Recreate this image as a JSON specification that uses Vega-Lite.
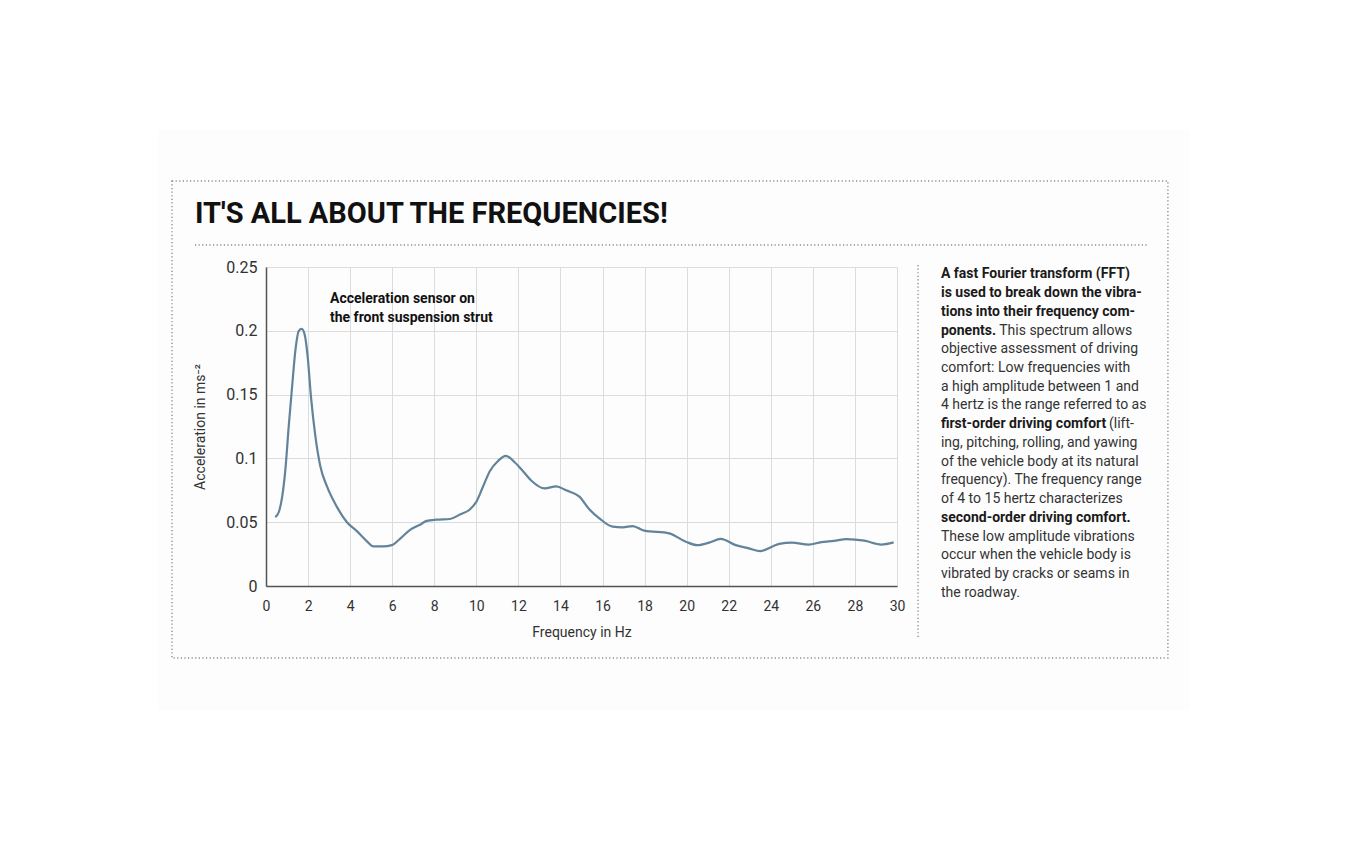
{
  "$schema": "https://vega.github.io/schema/vega-lite/v6.json",
  "width": 631,
  "height": 319,
  "autosize": {"type": "none"},
  "padding": {"left": 266, "top": 267, "right": 453, "bottom": 258},
  "background": "white",
  "config": {
    "view": {"stroke": null},
    "font": "Roboto",
    "text": {"align": "left", "baseline": "alphabetic", "font": "Roboto", "fontSize": 14, "lineBreak": "\n", "lineHeight": 18.73}
  },
  "datasets": {
    "spectrum": [
      {"hz": 0.44, "acc": 0.054}, {"hz": 0.61, "acc": 0.058}, {"hz": 0.77, "acc": 0.070},
      {"hz": 0.92, "acc": 0.091}, {"hz": 1.08, "acc": 0.125}, {"hz": 1.24, "acc": 0.156},
      {"hz": 1.40, "acc": 0.185}, {"hz": 1.56, "acc": 0.200}, {"hz": 1.70, "acc": 0.2015},
      {"hz": 1.84, "acc": 0.197}, {"hz": 1.98, "acc": 0.180}, {"hz": 2.14, "acc": 0.148},
      {"hz": 2.35, "acc": 0.117}, {"hz": 2.58, "acc": 0.094}, {"hz": 2.90, "acc": 0.078},
      {"hz": 3.37, "acc": 0.062}, {"hz": 3.85, "acc": 0.050}, {"hz": 4.32, "acc": 0.043},
      {"hz": 4.80, "acc": 0.035}, {"hz": 5.11, "acc": 0.031}, {"hz": 5.58, "acc": 0.031},
      {"hz": 5.98, "acc": 0.032}, {"hz": 6.37, "acc": 0.037}, {"hz": 6.85, "acc": 0.044},
      {"hz": 7.32, "acc": 0.048}, {"hz": 7.64, "acc": 0.051}, {"hz": 8.11, "acc": 0.052},
      {"hz": 8.74, "acc": 0.0525}, {"hz": 9.22, "acc": 0.056}, {"hz": 9.69, "acc": 0.060},
      {"hz": 10.0, "acc": 0.066}, {"hz": 10.32, "acc": 0.078}, {"hz": 10.64, "acc": 0.090},
      {"hz": 11.03, "acc": 0.098}, {"hz": 11.40, "acc": 0.102}, {"hz": 11.82, "acc": 0.097},
      {"hz": 12.22, "acc": 0.090}, {"hz": 12.62, "acc": 0.0825}, {"hz": 13.25, "acc": 0.0765},
      {"hz": 13.80, "acc": 0.078}, {"hz": 14.27, "acc": 0.075}, {"hz": 14.90, "acc": 0.070},
      {"hz": 15.38, "acc": 0.060}, {"hz": 15.85, "acc": 0.053}, {"hz": 16.48, "acc": 0.0465},
      {"hz": 16.96, "acc": 0.046}, {"hz": 17.43, "acc": 0.047}, {"hz": 17.99, "acc": 0.0434},
      {"hz": 19.17, "acc": 0.0413}, {"hz": 19.96, "acc": 0.0347}, {"hz": 20.51, "acc": 0.032},
      {"hz": 21.07, "acc": 0.034}, {"hz": 21.62, "acc": 0.037}, {"hz": 22.33, "acc": 0.032},
      {"hz": 22.96, "acc": 0.0295}, {"hz": 23.5, "acc": 0.0274}, {"hz": 24.4, "acc": 0.033},
      {"hz": 25.0, "acc": 0.034}, {"hz": 25.8, "acc": 0.0325}, {"hz": 26.4, "acc": 0.0344},
      {"hz": 27.0, "acc": 0.0354}, {"hz": 27.6, "acc": 0.0367}, {"hz": 28.45, "acc": 0.0355},
      {"hz": 29.25, "acc": 0.0325}, {"hz": 29.84, "acc": 0.0342}
    ]
  },
  "layer": [
    {
      "data": {"values": [{}]},
      "mark": {"type": "rect", "fill": "#000000", "fillOpacity": 0.008},
      "encoding": {
        "x": {"datum": -5.18, "type": "quantitative"},
        "x2": {"datum": 43.93},
        "y": {"datum": 0.3574, "type": "quantitative"},
        "y2": {"datum": -0.0972}
      }
    },
    {
      "data": {"name": "spectrum"},
      "mark": {"type": "line", "interpolate": "monotone", "color": "#62839a", "strokeWidth": 2.2},
      "encoding": {
        "x": {
          "field": "hz",
          "type": "quantitative",
          "scale": {"domain": [0, 30], "nice": false, "zero": false},
          "axis": {
            "values": [0,1,2,3,4,5,6,7,8,9,10,11,12,13,14,15,16,17,18,19,20,21,22,23,24,25,26,27,28,29,30],
            "labelExpr": "datum.value % 2 === 0 ? datum.label : ''",
            "format": "d",
            "title": "Frequency in Hz",
            "grid": true,
            "gridColor": "#dedede",
            "gridWidth": 1,
            "ticks": false,
            "domainColor": "#555555",
            "domainWidth": 1.5,
            "labelFont": "Roboto",
            "labelFontSize": 14,
            "labelColor": "#333333",
            "labelPadding": 13,
            "labelFlush": false,
            "labelOverlap": false,
            "titleFont": "Roboto",
            "titleFontSize": 14,
            "titleFontWeight": "normal",
            "titleColor": "#333333",
            "titlePadding": 12
          }
        },
        "y": {
          "field": "acc",
          "type": "quantitative",
          "scale": {"domain": [0, 0.25], "nice": false},
          "axis": {
            "values": [0, 0.05, 0.1, 0.15, 0.2, 0.25],
            "format": "~g",
            "title": "Acceleration in ms⁻²",
            "grid": true,
            "gridColor": "#dedede",
            "gridWidth": 1,
            "ticks": false,
            "domainColor": "#555555",
            "domainWidth": 1.5,
            "labelFont": "Roboto",
            "labelFontSize": 16,
            "labelColor": "#333333",
            "labelPadding": 9,
            "labelFlush": false,
            "titleFont": "Roboto",
            "titleFontSize": 14,
            "titleFontWeight": "normal",
            "titleColor": "#333333",
            "titlePadding": 18
          }
        }
      }
    },
    {
      "data": {"values": [{}]},
      "mark": {"type": "rect", "fill": null, "stroke": "#8c8c8c", "strokeWidth": 1.4, "strokeDash": [1.2, 2.4]},
      "encoding": {
        "x": {"datum": -4.469, "type": "quantitative"},
        "x2": {"datum": 42.88},
        "y": {"datum": 0.3174, "type": "quantitative"},
        "y2": {"datum": -0.0564}
      }
    },
    {
      "data": {"values": [{}]},
      "mark": {"type": "rule", "stroke": "#8c8c8c", "strokeWidth": 1.4, "strokeDash": [1.2, 2.4]},
      "encoding": {
        "x": {"datum": -3.376, "type": "quantitative"},
        "x2": {"datum": 41.93},
        "y": {"datum": 0.2672, "type": "quantitative"}
      }
    },
    {
      "data": {"values": [{}]},
      "mark": {"type": "rule", "stroke": "#8c8c8c", "strokeWidth": 1.4, "strokeDash": [1.2, 2.4]},
      "encoding": {
        "x": {"datum": 31.0, "type": "quantitative"},
        "y": {"datum": 0.2516, "type": "quantitative"},
        "y2": {"datum": -0.04}
      }
    },
    {
      "data": {"values": [{"text": "IT'S ALL ABOUT THE FREQUENCIES!"}]},
      "mark": {"type": "text", "fontSize": 29, "fontWeight": "bold", "color": "#111111"},
      "encoding": {
        "x": {"datum": -3.376, "type": "quantitative"},
        "y": {"datum": 0.2845, "type": "quantitative"},
        "text": {"field": "text"}
      }
    },
    {
      "data": {"values": [{"text": "Acceleration sensor on\nthe front suspension strut"}]},
      "mark": {"type": "text", "lineHeight": 19, "fontWeight": "bold", "color": "#111111"},
      "encoding": {
        "x": {"datum": 3.043, "type": "quantitative"},
        "y": {"datum": 0.2218, "type": "quantitative"},
        "text": {"field": "text"}
      }
    },
    {
      "data": {"values": [{"text": "A fast Fourier transform (FFT)\nis used to break down the vibra-\ntions into their frequency com-\nponents."}]},
      "mark": {"type": "text", "fontWeight": "bold", "color": "#1a1a1a"},
      "encoding": {
        "x": {"datum": 32.09, "type": "quantitative"},
        "y": {"datum": 0.2411, "type": "quantitative"},
        "text": {"field": "text"}
      }
    },
    {
      "data": {"values": [{"text": "This spectrum allows"}]},
      "mark": {"type": "text", "fontWeight": "normal", "color": "#333333"},
      "encoding": {
        "x": {"datum": 34.86, "type": "quantitative"},
        "y": {"datum": 0.1971, "type": "quantitative"},
        "text": {"field": "text"}
      }
    },
    {
      "data": {"values": [{"text": "objective assessment of driving\ncomfort: Low frequencies with\na high amplitude between 1 and\n4 hertz is the range referred to as"}]},
      "mark": {"type": "text", "fontWeight": "normal", "color": "#333333"},
      "encoding": {
        "x": {"datum": 32.09, "type": "quantitative"},
        "y": {"datum": 0.1824, "type": "quantitative"},
        "text": {"field": "text"}
      }
    },
    {
      "data": {"values": [{"text": "first-order driving comfort"}]},
      "mark": {"type": "text", "fontWeight": "bold", "color": "#1a1a1a"},
      "encoding": {
        "x": {"datum": 32.09, "type": "quantitative"},
        "y": {"datum": 0.1237, "type": "quantitative"},
        "text": {"field": "text"}
      }
    },
    {
      "data": {"values": [{"text": "(lift-"}]},
      "mark": {"type": "text", "fontWeight": "normal", "color": "#333333"},
      "encoding": {
        "x": {"datum": 40.08, "type": "quantitative"},
        "y": {"datum": 0.1237, "type": "quantitative"},
        "text": {"field": "text"}
      }
    },
    {
      "data": {"values": [{"text": "ing, pitching, rolling, and yawing\nof the vehicle body at its natural\nfrequency). The frequency range\nof 4 to 15 hertz characterizes"}]},
      "mark": {"type": "text", "fontWeight": "normal", "color": "#333333"},
      "encoding": {
        "x": {"datum": 32.09, "type": "quantitative"},
        "y": {"datum": 0.1090, "type": "quantitative"},
        "text": {"field": "text"}
      }
    },
    {
      "data": {"values": [{"text": "second-order driving comfort."}]},
      "mark": {"type": "text", "fontWeight": "bold", "color": "#1a1a1a"},
      "encoding": {
        "x": {"datum": 32.09, "type": "quantitative"},
        "y": {"datum": 0.0503, "type": "quantitative"},
        "text": {"field": "text"}
      }
    },
    {
      "data": {"values": [{"text": "These low amplitude vibrations\noccur when the vehicle body is\nvibrated by cracks or seams in\nthe roadway."}]},
      "mark": {"type": "text", "fontWeight": "normal", "color": "#333333"},
      "encoding": {
        "x": {"datum": 32.09, "type": "quantitative"},
        "y": {"datum": 0.0356, "type": "quantitative"},
        "text": {"field": "text"}
      }
    }
  ]
}
